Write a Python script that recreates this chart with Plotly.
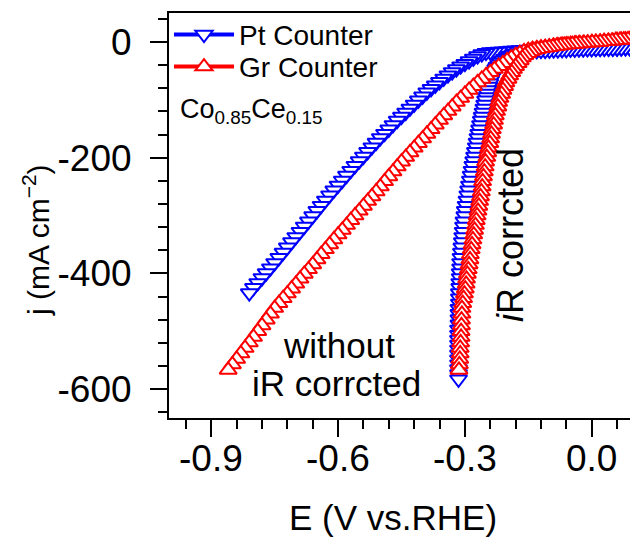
import plotly.graph_objects as go

# ---- Linear sweep data, Co0.85Ce0.15 cathode (scan from positive to negative) ----
# Graphite counter electrode, raw potential (V vs. RHE)
e_gr = [0.10, 0.09, 0.08, 0.07, 0.06, 0.05, 0.04, 0.03, 0.02, 0.01, 0.00,
        -0.01, -0.02, -0.03, -0.04, -0.05, -0.06, -0.07, -0.08, -0.09, -0.10,
        -0.11, -0.12, -0.13, -0.14, -0.15, -0.16, -0.17, -0.18, -0.19, -0.20,
        -0.21, -0.22, -0.23, -0.24, -0.25, -0.26, -0.27, -0.28, -0.29, -0.30,
        -0.31, -0.32, -0.33, -0.34, -0.35, -0.36, -0.37, -0.38, -0.39, -0.40,
        -0.41, -0.42, -0.43, -0.44, -0.45, -0.46, -0.47, -0.48, -0.49, -0.50,
        -0.51, -0.52, -0.53, -0.54, -0.55, -0.56, -0.57, -0.58, -0.59, -0.60,
        -0.61, -0.62, -0.63, -0.64, -0.65, -0.66, -0.67, -0.68, -0.69, -0.70,
        -0.71, -0.72, -0.73, -0.74, -0.75, -0.76, -0.77, -0.78, -0.79, -0.80,
        -0.81, -0.82, -0.83, -0.84, -0.85, -0.86]
# Graphite counter, current density (mA cm^-2)
j_gr = [5, 4.5, 4, 3.5, 3, 2, 1.5, 1, 0, -0.5, -1,
        -1.5, -2, -2.5, -3, -4, -4.5, -5, -6, -7, -8,
        -9, -10, -11, -12.5, -14, -16.5, -19.5, -23, -27, -32,
        -37, -42, -47, -52.5, -58, -64, -70, -76.5, -83, -90,
        -97, -104, -112, -119.5, -127, -135, -143, -151, -159, -167,
        -175, -183, -191, -199, -207, -215.5, -224, -232.5, -241, -250,
        -258.5, -267, -275, -283.5, -292, -300, -308, -316.5, -325, -333,
        -341.5, -350, -358.5, -367, -376, -384.5, -393, -401, -409.5, -418,
        -426.5, -435, -443, -451.5, -460, -470, -480, -490, -500, -510,
        -519.5, -529, -538.5, -548, -557.5, -567]
# Graphite counter, iR-corrected potential (V vs. RHE)
e_gr_ir = [0.095, 0.086, 0.076, 0.067, 0.057, 0.048, 0.039, 0.029, 0.020, 0.010, 0.001,
           -0.009, -0.018, -0.028, -0.037, -0.046, -0.056, -0.065, -0.074, -0.083, -0.092,
           -0.101, -0.110, -0.119, -0.128, -0.137, -0.144, -0.151, -0.158, -0.164, -0.169,
           -0.174, -0.180, -0.185, -0.189, -0.194, -0.198, -0.203, -0.206, -0.210, -0.213,
           -0.217, -0.220, -0.222, -0.225, -0.228, -0.230, -0.232, -0.235, -0.237, -0.239,
           -0.241, -0.244, -0.246, -0.248, -0.251, -0.252, -0.254, -0.256, -0.258, -0.259,
           -0.261, -0.263, -0.265, -0.267, -0.269, -0.271, -0.273, -0.275, -0.277, -0.279,
           -0.281, -0.283, -0.285, -0.287, -0.288, -0.290, -0.292, -0.294, -0.296, -0.297,
           -0.299, -0.301, -0.303, -0.305, -0.307, -0.307, -0.308, -0.308, -0.309, -0.309,
           -0.310, -0.311, -0.311, -0.312, -0.313, -0.314]

# Pt counter electrode, raw potential (V vs. RHE)
e_pt = [0.10, 0.09, 0.08, 0.07, 0.06, 0.05, 0.04, 0.03, 0.02, 0.01, 0.00,
        -0.01, -0.02, -0.03, -0.04, -0.05, -0.06, -0.07, -0.08, -0.09, -0.10,
        -0.11, -0.12, -0.13, -0.14, -0.15, -0.16, -0.17, -0.18, -0.19, -0.20,
        -0.21, -0.22, -0.23, -0.24, -0.25, -0.26, -0.27, -0.28, -0.29, -0.30,
        -0.31, -0.32, -0.33, -0.34, -0.35, -0.36, -0.37, -0.38, -0.39, -0.40,
        -0.41, -0.42, -0.43, -0.44, -0.45, -0.46, -0.47, -0.48, -0.49, -0.50,
        -0.51, -0.52, -0.53, -0.54, -0.55, -0.56, -0.57, -0.58, -0.59, -0.60,
        -0.61, -0.62, -0.63, -0.64, -0.65, -0.66, -0.67, -0.68, -0.69, -0.70,
        -0.71, -0.72, -0.73, -0.74, -0.75, -0.76, -0.77, -0.78, -0.79, -0.80,
        -0.81]
# Pt counter, current density (mA cm^-2)
j_pt = [-10.5, -10.5, -10.5, -10.5, -11, -11, -11, -11, -11, -11, -11,
        -11, -11.5, -11.5, -11.5, -11.5, -11.5, -12, -12, -12, -12,
        -12.5, -12.5, -12.5, -13, -13, -13.5, -14, -14.5, -15, -15.5,
        -16, -16.5, -17, -17.5, -18.5, -21, -24.5, -28.5, -33, -37.5,
        -42, -47, -52, -57.5, -63, -69, -75, -81, -87, -94,
        -101, -108, -115, -122, -129, -136, -143.5, -151, -158.5, -166,
        -174, -182, -190, -198, -206, -214, -222.5, -231, -239.5, -248,
        -256.5, -265, -274, -283, -292, -301, -310, -319, -328, -337,
        -346, -355, -364, -373, -382, -391, -399.5, -408, -416.5, -425,
        -434]
# Pt counter, iR-corrected sweep
e_pt_ir = [0.10, 0.09, 0.08, 0.07, 0.06, 0.05, 0.04, 0.03, 0.02, 0.01, 0.00,
           -0.01, -0.02, -0.03, -0.04, -0.05, -0.06, -0.07, -0.08, -0.09, -0.10,
           -0.11, -0.12, -0.13, -0.14, -0.15, -0.16, -0.17, -0.18,
           -0.187, -0.194, -0.200, -0.206, -0.211, -0.216, -0.220, -0.224, -0.227, -0.230,
           -0.233, -0.236, -0.239, -0.241, -0.243, -0.245, -0.247, -0.249, -0.251, -0.253,
           -0.255, -0.257, -0.259, -0.261, -0.263, -0.265, -0.267, -0.269, -0.271, -0.273,
           -0.275, -0.277, -0.279, -0.281, -0.283, -0.285, -0.287, -0.289, -0.291, -0.293,
           -0.295, -0.297, -0.299, -0.300, -0.302, -0.303, -0.304, -0.305, -0.306, -0.307,
           -0.308, -0.309, -0.310, -0.310, -0.311, -0.311, -0.312, -0.312, -0.313, -0.313,
           -0.313, -0.314, -0.314, -0.314, -0.314, -0.315, -0.315, -0.315, -0.315, -0.315,
           -0.315, -0.315, -0.315, -0.315, -0.315, -0.315]
j_pt_ir = [-9.5, -10, -10, -10.5, -10.5, -11, -11, -11, -11.5, -11.5, -12,
           -12, -12.5, -12.5, -13, -13, -13.5, -13.5, -14, -14, -14.5,
           -15, -15, -15.5, -16, -17, -18, -19, -20.5,
           -22, -24, -26.5, -29, -32, -35.5, -39, -43, -47, -51.5,
           -56, -61, -66, -71.5, -77, -83, -89, -95, -101, -108,
           -115, -122, -129, -136, -143.5, -151, -158.5, -166, -174, -182,
           -190, -198, -206, -214, -222.5, -231, -239.5, -248, -256.5, -265,
           -274, -283, -292, -301, -310, -319, -328, -337, -346, -355,
           -364, -373, -382, -391, -399.5, -408, -416.5, -425, -434, -443,
           -452, -461, -470, -479, -488, -497, -506, -514.5, -523, -531.5,
           -540, -548.5, -557, -565.5, -574, -583]

x_ticks = [-0.9, -0.6, -0.3, 0.0]
x_ticktext = ["-0.9", "-0.6", "-0.3", "0.0"]
y_ticks = [0, -200, -400, -600]
y_ticktext = ["0", "-200", "-400", "-600"]

BLUE = "#0000FF"
RED = "#FF0000"
FONT = "Liberation Sans, Arial, sans-serif"
TICK_FONT = dict(family=FONT, size=37, color="black")


def sweep(x, y, color, symbol, name, legend, legend_id="legend"):
    return go.Scatter(
        x=x, y=y, mode="lines+markers", name=name, showlegend=legend,
        legend=legend_id,
        line=dict(color=color, width=4),
        marker=dict(symbol=symbol, size=15, color="white",
                    line=dict(color=color, width=2)),
    )


fig = go.Figure()
fig.add_trace(sweep(e_pt, j_pt, BLUE, "triangle-down", "Pt Counter", True, "legend"))
fig.add_trace(sweep(e_pt_ir, j_pt_ir, BLUE, "triangle-down", "Pt Counter", False))
fig.add_trace(sweep(e_gr, j_gr, RED, "triangle-up", "Gr Counter", True, "legend2"))
fig.add_trace(sweep(e_gr_ir, j_gr, RED, "triangle-up", "Gr Counter", False))

axis_common = dict(
    showgrid=False, zeroline=False, showline=True, linecolor="black", linewidth=2,
    ticks="outside", ticklen=17, tickwidth=2, tickcolor="black",
    tickfont=TICK_FONT,
)

# x tick labels are placed as annotations so they sit close under the ticks
fig.update_xaxes(
    range=[-1.0, 0.0907], tickmode="array", tickvals=x_ticks, showticklabels=False,
    mirror=True,
    minor=dict(tickmode="linear", tick0=-0.9, dtick=0.06, ticks="outside",
               ticklen=9, tickwidth=2, tickcolor="black"),
    **axis_common,
)
fig.update_yaxes(
    range=[-650, 50], tickmode="array", tickvals=y_ticks, ticktext=y_ticktext,
    ticklabelstandoff=11,
    minor=dict(tickmode="linear", tick0=0, dtick=40, ticks="outside",
               ticklen=9, tickwidth=2, tickcolor="black"),
    **axis_common,
)

for xv, label in zip(x_ticks, x_ticktext):
    fig.add_annotation(text=label, x=xv, xref="x", y=-0.101, yref="paper",
                       xanchor="center", yanchor="middle", showarrow=False,
                       font=TICK_FONT)

fig.add_annotation(text="E (V vs.RHE)", xref="paper", yref="paper",
                   x=0.486, y=-0.245, xanchor="center", yanchor="middle",
                   showarrow=False, font=dict(family=FONT, size=35, color="black"))
fig.add_annotation(text="j (mA cm<sup>\u22122</sup>)", xref="paper", yref="paper",
                   x=-0.288, y=0.44, xanchor="center", yanchor="middle", textangle=-90,
                   showarrow=False, font=dict(family=FONT, size=30, color="black"))
fig.add_annotation(text="Co<sub>0.85</sub>Ce<sub>0.15</sub>", xref="paper", yref="paper",
                   x=0.019, y=0.758, xanchor="left", yanchor="middle",
                   showarrow=False, font=dict(family=FONT, size=27, color="black"))
fig.add_annotation(text="without", xref="paper", yref="paper",
                   x=0.368, y=0.178, xanchor="center", yanchor="middle",
                   showarrow=False, font=dict(family=FONT, size=35, color="black"))
fig.add_annotation(text="iR corrcted", xref="paper", yref="paper",
                   x=0.364, y=0.084, xanchor="center", yanchor="middle",
                   showarrow=False, font=dict(family=FONT, size=35, color="black"))
fig.add_annotation(text="<i>i</i>R corrcted", xref="paper", yref="paper",
                   x=0.742, y=0.452, xanchor="center", yanchor="middle", textangle=-90,
                   showarrow=False, font=dict(family=FONT, size=36, color="black"))

legend_style = dict(xanchor="left", yanchor="middle", bgcolor="rgba(0,0,0,0)",
                    borderwidth=0, itemwidth=60,
                    font=dict(family=FONT, size=28, color="black"))

fig.update_layout(
    width=630, height=539,
    margin=dict(l=169, r=0, t=13, b=121),
    paper_bgcolor="white", plot_bgcolor="white",
    showlegend=True,
    legend=dict(x=0.0, y=0.946, **legend_style),
    legend2=dict(x=0.0, y=0.867, **legend_style),
)

fig.write_html("out.html")
